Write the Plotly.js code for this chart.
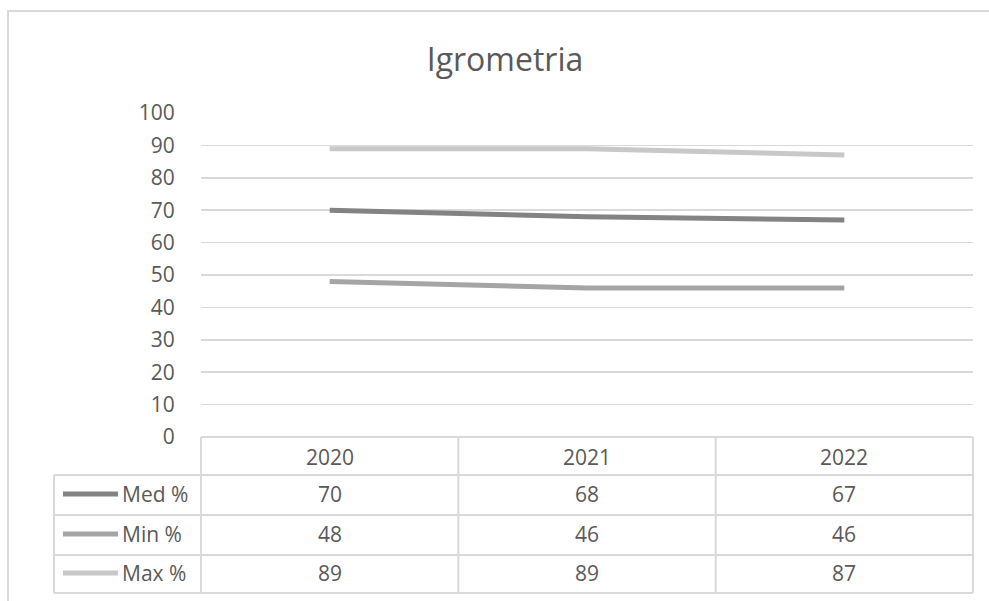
<!DOCTYPE html>
<html>
<head>
<meta charset="utf-8">
<script src="https://cdn.plot.ly/plotly-3.0.1.min.js"></script>
<style>html,body{margin:0;padding:0;background:#fff;}#chart{width:989px;height:601px;}</style>
</head>
<body>
<div id="chart"></div>
<script>
// ---- data ----
const years = ['2020', '2021', '2022'];
const seriesNames = ['Med %', 'Min %', 'Max %'];
const medValues = [70, 68, 67];
const minValues = [48, 46, 46];
const maxValues = [89, 89, 87];
const yTickValues = [0, 10, 20, 30, 40, 50, 60, 70, 80, 90, 100];

// ---- styles ----
const seriesColors = ['#838383', '#a5a5a5', '#c8c8c8'];
const textColor = '#595959';
const gridColor = '#d9d9d9';
const fontFamily = '"Open Sans", Lato, sans-serif';
const W = 989, H = 601;
const px = x => x / W;
const py = y => 1 - y / H;

const plotLeft = 201, plotRight = 973, plotTop = 113, plotBottom = 437;
const tableLeft = 54, tableBottom = 593;
const rowLines = [475, 515, 555, 593];
const headerY = 457;
const rowTextY = [494, 534, 573];

const allValues = [medValues, minValues, maxValues];

const traces = allValues.map((vals, i) => ({
  type: 'scatter', mode: 'lines', x: years, y: vals, name: seriesNames[i],
  line: {color: seriesColors[i], width: 5}, showlegend: false, hoverinfo: 'x+y+name'
}));

const shapes = [];
const lineStyle = {color: gridColor, width: 2};
// chart outer border
shapes.push({type: 'rect', xref: 'paper', yref: 'paper', x0: px(8), x1: px(1005), y0: py(612), y1: py(11), line: lineStyle, layer: 'below'});
// table lines
shapes.push({type: 'line', xref: 'paper', yref: 'paper', x0: px(plotLeft), x1: px(plotRight), y0: py(plotBottom), y1: py(plotBottom), line: lineStyle});
rowLines.forEach(y => shapes.push({type: 'line', xref: 'paper', yref: 'paper', x0: px(tableLeft), x1: px(plotRight), y0: py(y), y1: py(y), line: lineStyle}));
const colW = (plotRight - plotLeft) / years.length;
for (let j = 0; j <= years.length; j++) {
  const x = plotLeft + j * colW;
  shapes.push({type: 'line', xref: 'paper', yref: 'paper', x0: px(x), x1: px(x), y0: py(plotBottom), y1: py(tableBottom), line: lineStyle});
}
shapes.push({type: 'line', xref: 'paper', yref: 'paper', x0: px(tableLeft), x1: px(tableLeft), y0: py(rowLines[0]), y1: py(tableBottom), line: lineStyle});
// legend swatches
seriesNames.forEach((n, i) => shapes.push({type: 'line', xref: 'paper', yref: 'paper', x0: px(63), x1: px(118), y0: py(rowTextY[i]), y1: py(rowTextY[i]), line: {color: seriesColors[i], width: 5}}));

const annotations = [];
const cellFont = {family: fontFamily, size: 21, color: textColor};
// category axis: annotation x given as category index
years.forEach((yr, j) => annotations.push({xref: 'x', yref: 'paper', x: j, y: py(headerY), text: yr, showarrow: false, xanchor: 'center', yanchor: 'middle', font: cellFont}));
seriesNames.forEach((n, i) => {
  annotations.push({xref: 'paper', yref: 'paper', x: px(120), y: py(rowTextY[i]), text: n, showarrow: false, xanchor: 'left', yanchor: 'middle', font: cellFont});
  allValues[i].forEach((v, j) => annotations.push({xref: 'x', yref: 'paper', x: j, y: py(rowTextY[i]), text: String(v), showarrow: false, xanchor: 'center', yanchor: 'middle', font: cellFont}));
});

const layout = {
  width: W, height: H,
  margin: {l: 0, r: 0, t: 0, b: 0},
  paper_bgcolor: '#ffffff', plot_bgcolor: '#ffffff',
  font: {family: fontFamily, color: textColor},
  title: {text: 'Igrometria', x: px(505), y: py(60), xanchor: 'center', yanchor: 'middle', xref: 'paper', yref: 'paper', font: {family: fontFamily, size: 32, color: textColor}},
  xaxis: {type: 'category', domain: [px(plotLeft), px(plotRight)], range: [-0.5, 2.5], showticklabels: false, showgrid: false, zeroline: false, showline: false, fixedrange: true},
  yaxis: {domain: [py(plotBottom), py(plotTop)], range: [0, 100], tickvals: yTickValues, ticktext: yTickValues.map(String), showgrid: true, gridcolor: gridColor, gridwidth: 1.5, zeroline: false, showline: false, ticks: 'outside', ticklen: 21, tickcolor: 'rgba(0,0,0,0)', tickfont: {family: fontFamily, size: 21, color: textColor}, fixedrange: true},
  shapes: shapes,
  annotations: annotations
};

Plotly.newPlot('chart', traces, layout, {displayModeBar: false, staticPlot: true});
</script>
</body>
</html>
